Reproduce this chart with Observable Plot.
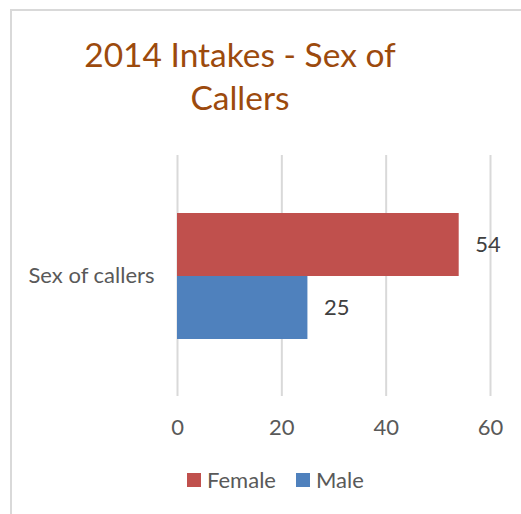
<!DOCTYPE html>
<html>
<head>
<meta charset="utf-8">
<script src="https://cdn.jsdelivr.net/npm/d3@7"></script>
<script src="https://cdn.jsdelivr.net/npm/@observablehq/plot@0.6"></script>
<style>
  html, body { margin: 0; padding: 0; background: #fff; }
  body { width: 521px; height: 514px; position: relative; overflow: hidden; font-family: Lato, "Open Sans", sans-serif; }
  #frame { position: absolute; left: 10px; top: 9px; width: 520px; height: 520px; border-top: 2px solid #D9D9D9; border-left: 2px solid #D9D9D9; box-sizing: border-box; }
  #title { position: absolute; left: 0; width: 480px; top: 33px; text-align: center; font-size: 33.5px; line-height: 43px; color: #9C4A0D; }
  #chart { position: absolute; left: 0; top: 140px; }
  #legend { position: absolute; top: 466px; left: 187px; display: flex; align-items: center; font-size: 22px; color: #595959; }
  .item { display: flex; align-items: center; margin-right: 20px; }
  .sw { width: 14px; height: 14px; margin-right: 6px; }
</style>
</head>
<body>
<div id="frame"></div>
<div id="title">2014 Intakes - Sex of<br>Callers</div>
<div id="chart"></div>
<div id="legend"></div>
<script>
const categories = ["Sex of callers"];
const series = ["Female", "Male"];
const values = [54, 25];
const colors = ["#C0504D", "#4F81BD"];
const xTicks = [0, 20, 40, 60];

const data = series.map((s, i) => ({category: categories[0], series: s, value: values[i]}));

const plot = Plot.plot({
  width: 521,
  height: 315,
  marginTop: 15,
  marginBottom: 59,
  marginLeft: 177,
  marginRight: 31,
  style: {fontFamily: "Lato, 'Open Sans', sans-serif", fontSize: "22px", color: "#595959", background: "transparent"},
  x: {domain: [0, 60], ticks: xTicks, label: null},
  y: {domain: series, paddingInner: 0, paddingOuter: 0.9, axis: null},
  fy: {domain: categories, padding: 0, label: null},
  color: {domain: series, range: colors},
  marks: [
    Plot.ruleX(xTicks, {stroke: "#D9D9D9", strokeWidth: 2}),
    Plot.axisX({ticks: xTicks, tickSize: 0, tickPadding: 23, fill: "#595959", fontSize: 22}),
    Plot.axisFy({anchor: "left", tickSize: 0, tickPadding: 23, fill: "#595959", fontSize: 22, label: null}),
    Plot.barX(data, {x: "value", y: "series", fy: "category", fill: "series"}),
    Plot.text(data, {x: "value", y: "series", fy: "category", text: d => String(d.value), textAnchor: "start", dx: 16, fill: "#404040", fontSize: 22})
  ]
});
document.getElementById("chart").appendChild(plot);

const legend = document.getElementById("legend");
series.forEach((s, i) => {
  const item = document.createElement("div");
  item.className = "item";
  const sw = document.createElement("div");
  sw.className = "sw";
  sw.style.background = colors[i];
  const t = document.createElement("span");
  t.textContent = s;
  item.appendChild(sw);
  item.appendChild(t);
  legend.appendChild(item);
});
</script>
</body>
</html>
